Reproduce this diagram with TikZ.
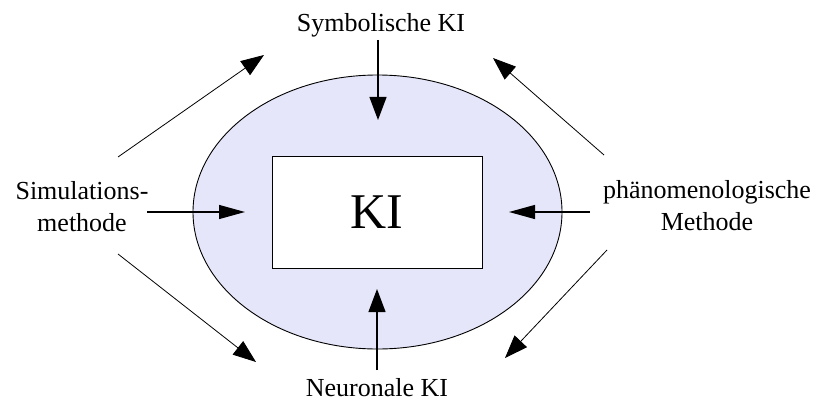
\documentclass[tikz,border=0pt]{standalone}
\usepackage{fontspec}
\setmainfont{Liberation Serif}
\usetikzlibrary{shapes.geometric,arrows.meta}
\definecolor{lav}{RGB}{230,230,250}
\begin{document}
\begin{tikzpicture}[x=1pt,y=-1pt,
  lbl/.style={font=\fontsize{26}{32}\selectfont, align=center, inner sep=0pt},
  varr/.style={line width=1.2pt, -{Triangle[length=23pt,width=17pt]}},
  harr/.style={line width=1.2pt, -{Triangle[length=26pt,width=14pt]}},
  darr/.style={line width=0.8pt, -{Triangle[length=23pt,width=17pt]}}]
\useasboundingbox (0,0) rectangle (819,401);
\node[ellipse, draw, line width=0.9pt, fill=lav, minimum width=369pt, minimum height=274pt, inner sep=0pt] (ell) at (377.5,212) {};
\node[draw, line width=1pt, fill=white, minimum width=210pt, minimum height=112pt, inner sep=0pt,
  font=\fontsize{50}{60}\selectfont] (ki) at (377,212) {KI};
\node[lbl, anchor=base] (sym) at (381,32) {Symbolische KI};
\node[lbl, anchor=base] (neu) at (377,396) {Neuronale KI};
\node[lbl] (sim) at (82,207) {Simulations-\\methode};
\node[lbl] (phae) at (707,206) {phänomenologische\\Methode};
% coordinates
\coordinate (t0) at (378,40);   \coordinate (t1) at (378,120);
\coordinate (b0) at (377,370);  \coordinate (b1) at (377,289);
\coordinate (l0) at (147,212);  \coordinate (l1) at (245,212);
\coordinate (r0) at (590,212);  \coordinate (r1) at (509,212);
\coordinate (tl0) at (118,157); \coordinate (tl1) at (264,55);
\coordinate (tr0) at (604,155); \coordinate (tr1) at (493,58);
\coordinate (bl0) at (118,254); \coordinate (bl1) at (256,362);
\coordinate (br0) at (607,250); \coordinate (br1) at (505,358);
\draw[varr] (t0) -- (t1);
\draw[varr] (b0) -- (b1);
\draw[harr] (l0) -- (l1);
\draw[harr] (r0) -- (r1);
\draw[darr] (tl0) -- (tl1);
\draw[darr] (tr0) -- (tr1);
\draw[darr] (bl0) -- (bl1);
\draw[darr] (br0) -- (br1);
\end{tikzpicture}
\end{document}
